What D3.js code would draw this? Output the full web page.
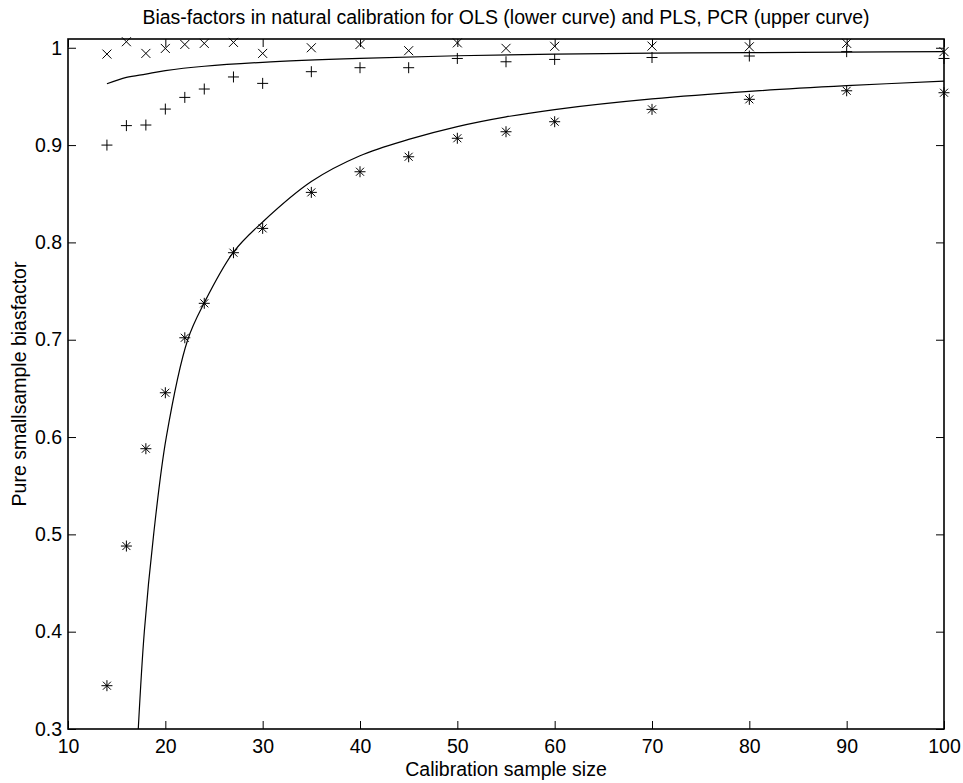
<!DOCTYPE html>
<html>
<head>
<meta charset="utf-8">
<script src="https://cdn.jsdelivr.net/npm/d3@7"></script>
<style>
  html, body { margin: 0; padding: 0; background: #fff; }
  svg { display: block; }
  text { font-family: "Liberation Sans", Arial, Helvetica, sans-serif; fill: #000; }
</style>
</head>
<body>
<svg id="chart" width="963" height="783"></svg>
<script>
// ---- data ----
const sampleSizes = [14, 16, 18, 20, 22, 24, 27, 30, 35, 40, 45, 50, 55, 60, 70, 80, 90, 100];
const olsStars    = [0.3445, 0.488, 0.588, 0.6455, 0.702, 0.7374, 0.7894, 0.8144, 0.8514, 0.8726, 0.888, 0.907, 0.9137, 0.924, 0.9367, 0.947, 0.9558, 0.9538];
const upperCross  = [0.9935, 1.0062, 0.9942, 0.9993, 1.0034, 1.0045, 1.0055, 0.9942, 1.0000, 1.0034, 0.997, 1.005, 0.9994, 1.0015, 1.0017, 1.001, 1.0045, 0.996];
const upperPlus   = [0.900, 0.920, 0.9206, 0.937, 0.949, 0.9576, 0.970, 0.9634, 0.9754, 0.9795, 0.9795, 0.989, 0.9856, 0.988, 0.990, 0.9915, 0.996, 0.989];

const lowerCurveN = [17.22, 17.84, 18.8, 20.1, 22.3, 24, 27, 30, 35, 40, 45, 50, 55, 60, 70, 80, 90, 100];
const lowerCurveV = [0.30, 0.40, 0.50, 0.60, 0.70, 0.738, 0.790, 0.821, 0.8625, 0.889, 0.9058, 0.919, 0.929, 0.9365, 0.9474, 0.9552, 0.961, 0.9657];
const upperCurveN = [14, 16, 18, 20, 24, 30, 40, 50, 60, 70, 80, 90, 100];
const upperCurveV = [0.963, 0.9695, 0.973, 0.9765, 0.981, 0.985, 0.989, 0.9918, 0.9935, 0.9944, 0.995, 0.9955, 0.996];

const xTicks = [10, 20, 30, 40, 50, 60, 70, 80, 90, 100];
const yTicks = [0.3, 0.4, 0.5, 0.6, 0.7, 0.8, 0.9, 1];

const titleText = "Bias-factors in natural calibration for OLS (lower curve) and PLS, PCR (upper curve)";
const xLabel = "Calibration sample size";
const yLabel = "Pure smallsample biasfactor";

// ---- layout ----
const L = 68, R = 944, T = 39, B = 729;
const FS = 19.5;

const svg = d3.select("#chart");
const x = d3.scaleLinear().domain([10, 100]).range([L, R]);
const y = d3.scaleLinear().domain([0.3, 1.009]).range([B, T]);

// axes (inward ticks on all sides)
const fmtY = d => d === 1 ? "1" : d3.format(".1f")(d);
const gB = svg.append("g").attr("transform", `translate(0,${B})`)
  .call(d3.axisBottom(x).tickValues(xTicks).tickSize(-8).tickSizeOuter(0).tickPadding(10).tickFormat(d3.format("d")));
const gT = svg.append("g").attr("transform", `translate(0,${T})`)
  .call(d3.axisTop(x).tickValues(xTicks).tickSize(-8).tickSizeOuter(0).tickFormat(""));
const gL = svg.append("g").attr("transform", `translate(${L},0)`)
  .call(d3.axisLeft(y).tickValues(yTicks).tickSize(-8).tickSizeOuter(0).tickPadding(6).tickFormat(fmtY));
const gR = svg.append("g").attr("transform", `translate(${R},0)`)
  .call(d3.axisRight(y).tickValues(yTicks).tickSize(-8).tickSizeOuter(0).tickFormat(""));

[gB, gT, gL, gR].forEach(g => {
  g.select(".domain").remove();
  g.selectAll(".tick line").attr("stroke", "#000").attr("stroke-width", 1);
  g.selectAll(".tick text").attr("font-size", FS).attr("font-family", "Liberation Sans, Arial, sans-serif").attr("fill", "#000");
});

// frame
svg.append("rect").attr("x", L).attr("y", T).attr("width", R - L).attr("height", B - T)
  .attr("fill", "none").attr("stroke", "#000").attr("stroke-width", 1.6);

// curves
const line = d3.line().x(d => x(d[0])).y(d => y(d[1])).curve(d3.curveCatmullRom.alpha(0.5));
svg.append("path").datum(lowerCurveN.map((n, i) => [n, lowerCurveV[i]]))
  .attr("d", line).attr("fill", "none").attr("stroke", "#000").attr("stroke-width", 1.2);
svg.append("path").datum(upperCurveN.map((n, i) => [n, upperCurveV[i]]))
  .attr("d", line).attr("fill", "none").attr("stroke", "#000").attr("stroke-width", 1.2);

// markers
function drawPlus(g, px, py, s) {
  g.append("line").attr("x1", px - s).attr("x2", px + s).attr("y1", py).attr("y2", py);
  g.append("line").attr("x1", px).attr("x2", px).attr("y1", py - s).attr("y2", py + s);
}
function drawCross(g, px, py, r) {
  g.append("line").attr("x1", px - r).attr("x2", px + r).attr("y1", py - r).attr("y2", py + r);
  g.append("line").attr("x1", px - r).attr("x2", px + r).attr("y1", py + r).attr("y2", py - r);
}
const mg = svg.append("g").attr("stroke", "#000").attr("stroke-width", 1).attr("fill", "none");
sampleSizes.forEach((n, i) => {
  const px = x(n);
  drawPlus(mg, px, y(olsStars[i]), 5.5);
  drawCross(mg, px, y(olsStars[i]), 4);
  drawCross(mg, px, y(upperCross[i]), 4.5);
  drawPlus(mg, px, y(upperPlus[i]), 5.5);
});

// labels
svg.append("text").attr("x", (L + R) / 2).attr("y", 24).attr("text-anchor", "middle")
  .attr("font-size", FS).text(titleText);
svg.append("text").attr("x", (L + R) / 2).attr("y", 776).attr("text-anchor", "middle")
  .attr("font-size", FS).text(xLabel);
svg.append("text").attr("transform", `translate(26,${(T + B) / 2}) rotate(-90)`).attr("text-anchor", "middle")
  .attr("font-size", FS).text(yLabel);
</script>
</body>
</html>
